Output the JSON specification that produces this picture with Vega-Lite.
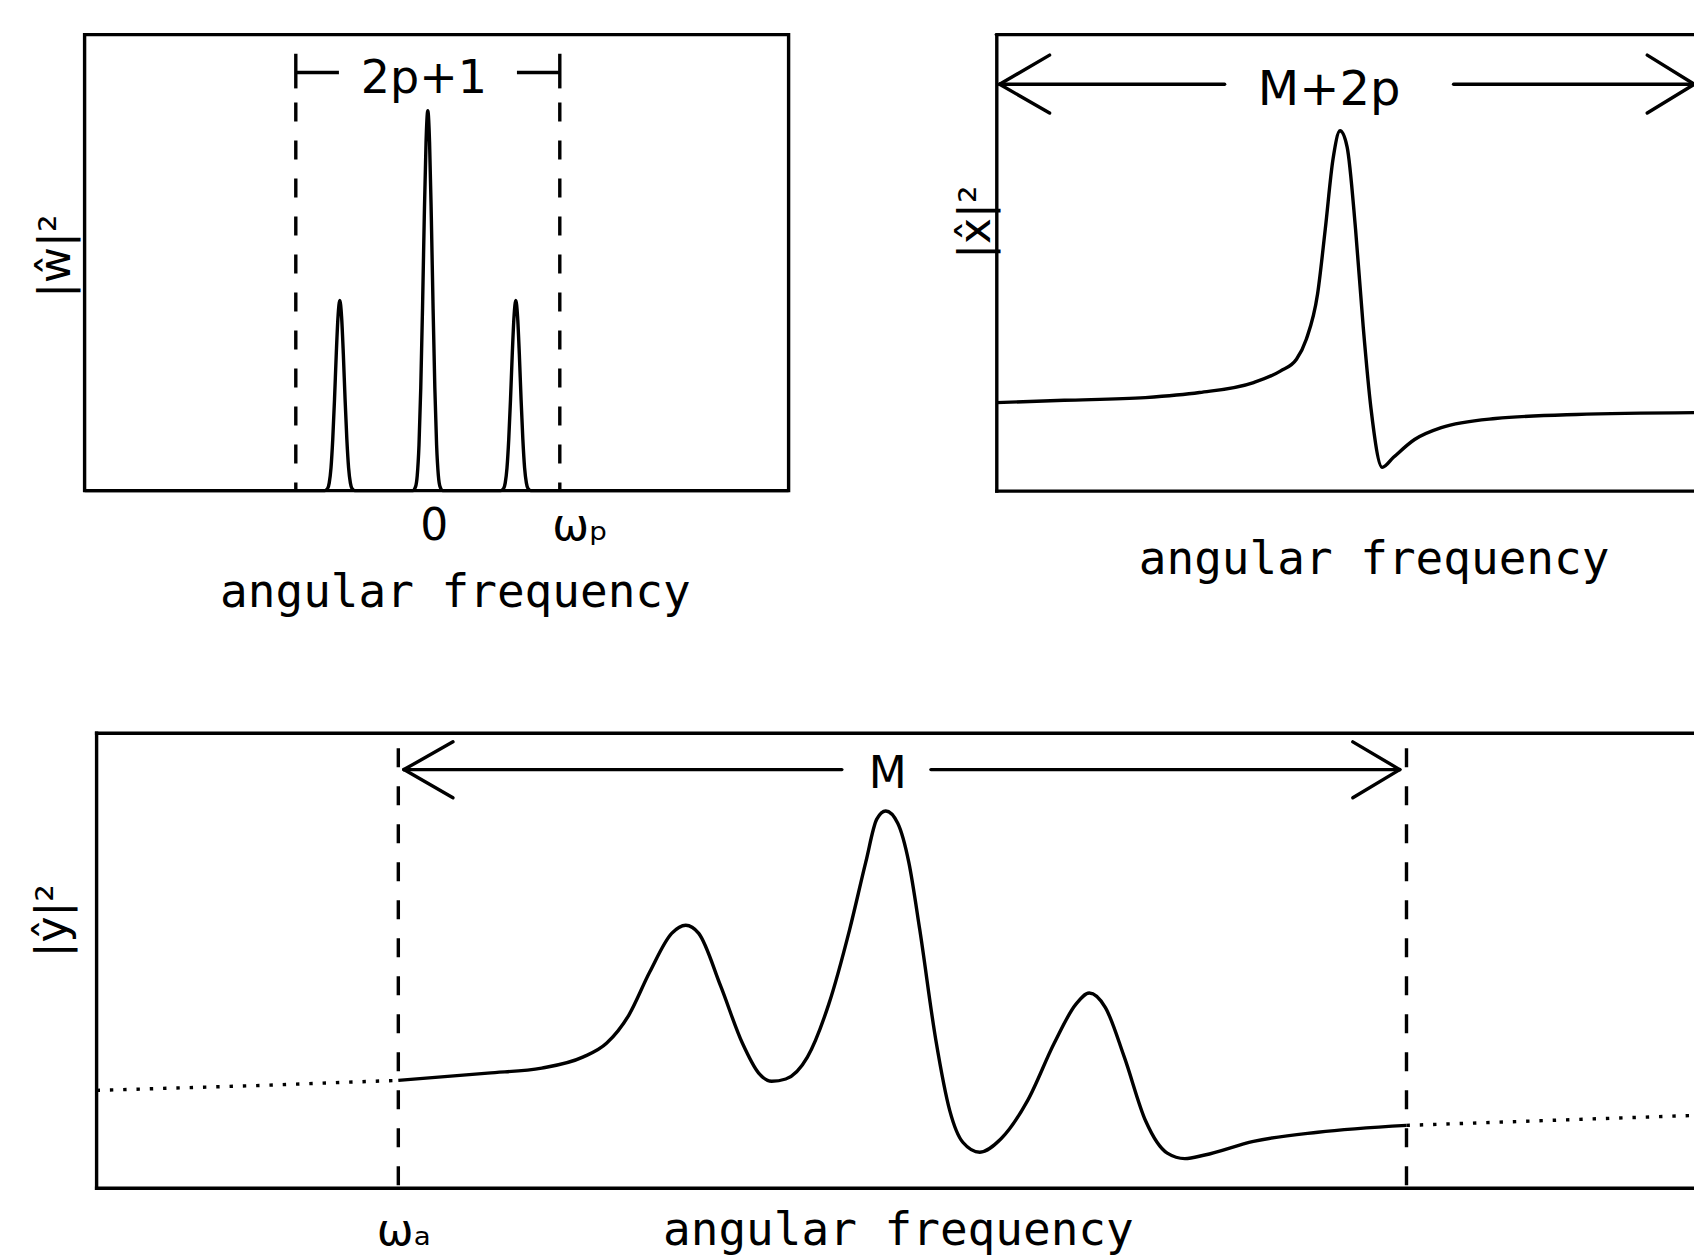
{
  "$schema": "https://vega.github.io/schema/vega-lite/v6.json",
  "background": "white",
  "padding": {"left": 31.6, "top": 32.6, "right": 0, "bottom": 3},
  "spacing": 112.6,
  "config": {
    "view": {"stroke": null},
    "axis": {
      "grid": false, "ticks": false, "tickSize": 0, "labels": false, "domain": false,
      "domainColor": "black", "domainWidth": 3.4, "domainCap": "square",
      "titleColor": "black", "titleFontWeight": "normal", "labelColor": "black", "titlePadding": 0
    },
    "line": {"color": "black", "strokeWidth": 3.4},
    "rule": {"color": "black", "strokeWidth": 3.4},
    "text": {"color": "black", "font": "DejaVu Sans"}
  },
  "datasets": {
    "w_spectrum": [
      {"omega": -3.9, "power": 0},
      {"omega": -1.17, "power": 0},
      {"omega": -1.14, "power": 0.004},
      {"omega": -1.12, "power": 0.017},
      {"omega": -1.10, "power": 0.05},
      {"omega": -1.08, "power": 0.113},
      {"omega": -1.06, "power": 0.2},
      {"omega": -1.04, "power": 0.3},
      {"omega": -1.02, "power": 0.382},
      {"omega": -1.0, "power": 0.417},
      {"omega": -0.98, "power": 0.382},
      {"omega": -0.96, "power": 0.3},
      {"omega": -0.94, "power": 0.2},
      {"omega": -0.92, "power": 0.113},
      {"omega": -0.90, "power": 0.05},
      {"omega": -0.88, "power": 0.017},
      {"omega": -0.86, "power": 0.004},
      {"omega": -0.83, "power": 0},
      {"omega": -0.17, "power": 0},
      {"omega": -0.14, "power": 0.008},
      {"omega": -0.12, "power": 0.033},
      {"omega": -0.10, "power": 0.1},
      {"omega": -0.08, "power": 0.225},
      {"omega": -0.06, "power": 0.4},
      {"omega": -0.04, "power": 0.6},
      {"omega": -0.02, "power": 0.764},
      {"omega": 0, "power": 0.833},
      {"omega": 0.02, "power": 0.764},
      {"omega": 0.04, "power": 0.6},
      {"omega": 0.06, "power": 0.4},
      {"omega": 0.08, "power": 0.225},
      {"omega": 0.10, "power": 0.1},
      {"omega": 0.12, "power": 0.033},
      {"omega": 0.14, "power": 0.008},
      {"omega": 0.17, "power": 0},
      {"omega": 0.83, "power": 0},
      {"omega": 0.86, "power": 0.004},
      {"omega": 0.88, "power": 0.017},
      {"omega": 0.90, "power": 0.05},
      {"omega": 0.92, "power": 0.113},
      {"omega": 0.94, "power": 0.2},
      {"omega": 0.96, "power": 0.3},
      {"omega": 0.98, "power": 0.382},
      {"omega": 1.0, "power": 0.417},
      {"omega": 1.02, "power": 0.382},
      {"omega": 1.04, "power": 0.3},
      {"omega": 1.06, "power": 0.2},
      {"omega": 1.08, "power": 0.113},
      {"omega": 1.10, "power": 0.05},
      {"omega": 1.12, "power": 0.017},
      {"omega": 1.14, "power": 0.004},
      {"omega": 1.17, "power": 0},
      {"omega": 4.1, "power": 0}
    ],
    "w_window": [
      {"omega": -1.5, "power": 0.851, "power2": 0},
      {"omega": 1.5, "power": 0.851, "power2": 0}
    ],
    "w_bracket": [
      {"omega": -1.5, "power": 0.958, "omega2": -1.5, "power2": 0.882},
      {"omega": 1.5, "power": 0.958, "omega2": 1.5, "power2": 0.882},
      {"omega": -1.5, "power": 0.917, "omega2": -1.01, "power2": 0.917},
      {"omega": 1.013, "power": 0.917, "omega2": 1.5, "power2": 0.917}
    ],
    "w_text": [
      {"omega": -0.044, "power": 0.873, "label": "2p+1"}
    ],
    "x_spectrum": [
      {"omega": 0, "power": 0.193},
      {"omega": 0.967, "power": 0.198},
      {"omega": 2.12, "power": 0.204},
      {"omega": 2.89, "power": 0.215},
      {"omega": 3.66, "power": 0.237},
      {"omega": 4.04, "power": 0.262},
      {"omega": 4.27, "power": 0.288},
      {"omega": 4.41, "power": 0.332},
      {"omega": 4.57, "power": 0.431},
      {"omega": 4.68, "power": 0.574},
      {"omega": 4.79, "power": 0.727},
      {"omega": 4.89, "power": 0.789},
      {"omega": 4.99, "power": 0.754},
      {"omega": 5.11, "power": 0.574},
      {"omega": 5.22, "power": 0.358},
      {"omega": 5.33, "power": 0.18},
      {"omega": 5.49, "power": 0.051},
      {"omega": 5.65, "power": 0.073},
      {"omega": 5.95, "power": 0.112},
      {"omega": 6.33, "power": 0.138},
      {"omega": 7.10, "power": 0.158},
      {"omega": 8.25, "power": 0.167},
      {"omega": 9.929, "power": 0.171}
    ],
    "x_segments": [
      {"omega": 0, "power": 1, "omega2": 9.929, "power2": 1},
      {"omega": 0.047, "power": 0.891, "omega2": 3.248, "power2": 0.891},
      {"omega": 0.047, "power": 0.891, "omega2": 0.758, "power2": 0.955},
      {"omega": 0.047, "power": 0.891, "omega2": 0.758, "power2": 0.828},
      {"omega": 6.505, "power": 0.891, "omega2": 9.929, "power2": 0.891},
      {"omega": 9.929, "power": 0.891, "omega2": 9.26, "power2": 0.955},
      {"omega": 9.929, "power": 0.891, "omega2": 9.26, "power2": 0.828}
    ],
    "x_text": [
      {"omega": 4.734, "power": 0.846, "label": "M+2p"}
    ],
    "y_spectrum": [
      {"segment": "left", "omega": 0, "power": 0.215},
      {"segment": "left", "omega": 0.955, "power": 0.225},
      {"segment": "left", "omega": 1.883, "power": 0.237},
      {"segment": "mid", "omega": 1.883, "power": 0.237},
      {"segment": "mid", "omega": 2.441, "power": 0.253},
      {"segment": "mid", "omega": 2.778, "power": 0.264},
      {"segment": "mid", "omega": 3.034, "power": 0.288},
      {"segment": "mid", "omega": 3.184, "power": 0.319},
      {"segment": "mid", "omega": 3.321, "power": 0.38},
      {"segment": "mid", "omega": 3.452, "power": 0.475},
      {"segment": "mid", "omega": 3.589, "power": 0.56},
      {"segment": "mid", "omega": 3.677, "power": 0.578},
      {"segment": "mid", "omega": 3.758, "power": 0.56},
      {"segment": "mid", "omega": 3.895, "power": 0.444},
      {"segment": "mid", "omega": 4.03, "power": 0.319},
      {"segment": "mid", "omega": 4.132, "power": 0.253},
      {"segment": "mid", "omega": 4.213, "power": 0.235},
      {"segment": "mid", "omega": 4.301, "power": 0.24},
      {"segment": "mid", "omega": 4.436, "power": 0.288},
      {"segment": "mid", "omega": 4.569, "power": 0.404},
      {"segment": "mid", "omega": 4.7, "power": 0.569},
      {"segment": "mid", "omega": 4.8, "power": 0.716},
      {"segment": "mid", "omega": 4.869, "power": 0.811},
      {"segment": "mid", "omega": 4.925, "power": 0.829},
      {"segment": "mid", "omega": 5.0, "power": 0.802},
      {"segment": "mid", "omega": 5.069, "power": 0.716},
      {"segment": "mid", "omega": 5.137, "power": 0.569},
      {"segment": "mid", "omega": 5.237, "power": 0.327},
      {"segment": "mid", "omega": 5.325, "power": 0.17},
      {"segment": "mid", "omega": 5.406, "power": 0.101},
      {"segment": "mid", "omega": 5.512, "power": 0.079},
      {"segment": "mid", "omega": 5.643, "power": 0.108},
      {"segment": "mid", "omega": 5.811, "power": 0.193},
      {"segment": "mid", "omega": 5.977, "power": 0.319},
      {"segment": "mid", "omega": 6.111, "power": 0.404},
      {"segment": "mid", "omega": 6.195, "power": 0.429},
      {"segment": "mid", "omega": 6.296, "power": 0.397},
      {"segment": "mid", "omega": 6.414, "power": 0.288},
      {"segment": "mid", "omega": 6.548, "power": 0.147},
      {"segment": "mid", "omega": 6.682, "power": 0.077},
      {"segment": "mid", "omega": 6.792, "power": 0.065},
      {"segment": "mid", "omega": 6.916, "power": 0.073},
      {"segment": "mid", "omega": 7.22, "power": 0.103},
      {"segment": "mid", "omega": 7.622, "power": 0.123},
      {"segment": "mid", "omega": 8.175, "power": 0.138},
      {"segment": "right", "omega": 8.175, "power": 0.138},
      {"segment": "right", "omega": 9.07, "power": 0.149},
      {"segment": "right", "omega": 9.973, "power": 0.16}
    ],
    "y_window": [
      {"omega": 1.883, "power": 0.967, "power2": 0},
      {"omega": 8.175, "power": 0.967, "power2": 0}
    ],
    "y_frame": [
      {"omega": 0, "power": 1, "omega2": 9.973, "power2": 1},
      {"omega": 0, "power": 0, "omega2": 9.973, "power2": 0},
      {"omega": 0, "power": 0, "omega2": 0, "power2": 1}
    ],
    "y_segments": [
      {"omega": 1.918, "power": 0.92, "omega2": 4.651, "power2": 0.92},
      {"omega": 1.918, "power": 0.92, "omega2": 2.224, "power2": 0.981},
      {"omega": 1.918, "power": 0.92, "omega2": 2.224, "power2": 0.858},
      {"omega": 5.207, "power": 0.92, "omega2": 8.133, "power2": 0.92},
      {"omega": 8.133, "power": 0.92, "omega2": 7.84, "power2": 0.981},
      {"omega": 8.133, "power": 0.92, "omega2": 7.84, "power2": 0.858}
    ],
    "y_text": [
      {"omega": 4.938, "power": 0.879, "label": "M"}
    ]
  },
  "vconcat": [
    {
      "spacing": 156.7,
      "hconcat": [
        {
          "width": 704,
          "height": 456,
          "view": {"stroke": "black", "strokeWidth": 3.4},
          "encoding": {
            "x": {
              "field": "omega", "type": "quantitative",
              "scale": {"domain": [-3.9, 4.1], "nice": false, "zero": false},
              "axis": {
                "values": [0, 1.5], "labels": true,
                "labelExpr": "datum.value === 0 ? '0' : 'ωₚ'",
                "labelFont": "DejaVu Sans", "labelFontSize": 44, "labelAlign": "left", "labelOffset": -8,
                "labelBaseline": "alphabetic", "labelPadding": 49,
                "labelFlush": false, "labelOverlap": false, "labelBound": false,
                "title": "angular frequency", "titleFont": "DejaVu Sans Mono", "titleFontSize": 46,
                "titleX": 370.3, "titleY": 116, "titleAlign": "center", "titleBaseline": "alphabetic"
              }
            },
            "y": {
              "field": "power", "type": "quantitative",
              "scale": {"domain": [0, 1], "nice": false},
              "axis": {
                "title": "|ŵ|²", "titleFont": "DejaVu Sans", "titleFontSize": 44, "titleAngle": 270,
                "titleX": -27.7, "titleY": 221, "titleAlign": "center", "titleBaseline": "middle"
              }
            }
          },
          "layer": [
            {"data": {"name": "w_spectrum"}, "mark": {"type": "line", "interpolate": "monotone"}},
            {"data": {"name": "w_window"}, "mark": {"type": "rule", "strokeDash": [19, 19]}, "encoding": {"y2": {"field": "power2"}}},
            {"data": {"name": "w_bracket"}, "mark": {"type": "rule"}, "encoding": {"x2": {"field": "omega2"}, "y2": {"field": "power2"}}},
            {"data": {"name": "w_text"}, "mark": {"type": "text", "fontSize": 46, "align": "center", "baseline": "alphabetic"}, "encoding": {"text": {"field": "label"}}}
          ]
        },
        {
          "width": 698,
          "height": 456,
          "encoding": {
            "x": {
              "field": "omega", "type": "quantitative",
              "scale": {"domain": [0, 9.929], "nice": false, "zero": false},
              "axis": {
                "domain": true,
                "title": "angular frequency", "titleFont": "DejaVu Sans Mono", "titleFontSize": 46,
                "titleX": 377.3, "titleY": 83, "titleAlign": "center", "titleBaseline": "alphabetic"
              }
            },
            "y": {
              "field": "power", "type": "quantitative",
              "scale": {"domain": [0, 1], "nice": false},
              "axis": {
                "domain": true,
                "title": "|x̂|²", "titleFont": "DejaVu Sans", "titleFontSize": 44, "titleAngle": 270,
                "titleX": -20, "titleY": 187, "titleAlign": "center", "titleBaseline": "middle"
              }
            }
          },
          "layer": [
            {"data": {"name": "x_spectrum"}, "mark": {"type": "line", "interpolate": "monotone"}},
            {"data": {"name": "x_segments"}, "mark": {"type": "rule", "strokeCap": "round"}, "encoding": {"x2": {"field": "omega2"}, "y2": {"field": "power2"}}},
            {"data": {"name": "x_text"}, "mark": {"type": "text", "fontSize": 48, "align": "center", "baseline": "alphabetic"}, "encoding": {"text": {"field": "label"}}}
          ]
        }
      ]
    },
    {
      "width": 1610,
      "height": 455,
      "encoding": {
        "x": {
          "field": "omega", "type": "quantitative",
          "scale": {"domain": [-0.0749, 9.973], "nice": false, "zero": false},
          "axis": {
            "values": [1.883], "labels": true, "labelExpr": "'ωₐ'",
            "labelFont": "DejaVu Sans", "labelFontSize": 44, "labelAlign": "left", "labelOffset": -22,
            "labelBaseline": "alphabetic", "labelPadding": 56,
            "labelFlush": false, "labelOverlap": false, "labelBound": false,
            "title": "angular frequency", "titleFont": "DejaVu Sans Mono", "titleFontSize": 46,
            "titleX": 813.3, "titleY": 56, "titleAlign": "center", "titleBaseline": "alphabetic"
          }
        },
        "y": {
          "field": "power", "type": "quantitative",
          "scale": {"domain": [0, 1], "nice": false},
          "axis": {
            "title": "|ŷ|²", "titleFont": "DejaVu Sans", "titleFontSize": 44, "titleAngle": 270,
            "titleX": -30.7, "titleY": 187, "titleAlign": "center", "titleBaseline": "middle"
          }
        }
      },
      "layer": [
        {"data": {"name": "y_frame"}, "mark": {"type": "rule", "strokeCap": "square"}, "encoding": {"x2": {"field": "omega2"}, "y2": {"field": "power2"}}},
        {
          "data": {"name": "y_spectrum"},
          "transform": [{"filter": "datum.segment === 'mid'"}],
          "mark": {"type": "line", "interpolate": "monotone"}
        },
        {
          "data": {"name": "y_spectrum"},
          "transform": [{"filter": "datum.segment !== 'mid'"}],
          "mark": {"type": "line", "strokeDash": [3.4, 9.9], "strokeCap": "butt"},
          "encoding": {"detail": {"field": "segment"}}
        },
        {"data": {"name": "y_window"}, "mark": {"type": "rule", "strokeDash": [19, 19]}, "encoding": {"y2": {"field": "power2"}}},
        {"data": {"name": "y_segments"}, "mark": {"type": "rule", "strokeCap": "round"}, "encoding": {"x2": {"field": "omega2"}, "y2": {"field": "power2"}}},
        {"data": {"name": "y_text"}, "mark": {"type": "text", "fontSize": 44, "align": "center", "baseline": "alphabetic"}, "encoding": {"text": {"field": "label"}}}
      ]
    }
  ]
}
